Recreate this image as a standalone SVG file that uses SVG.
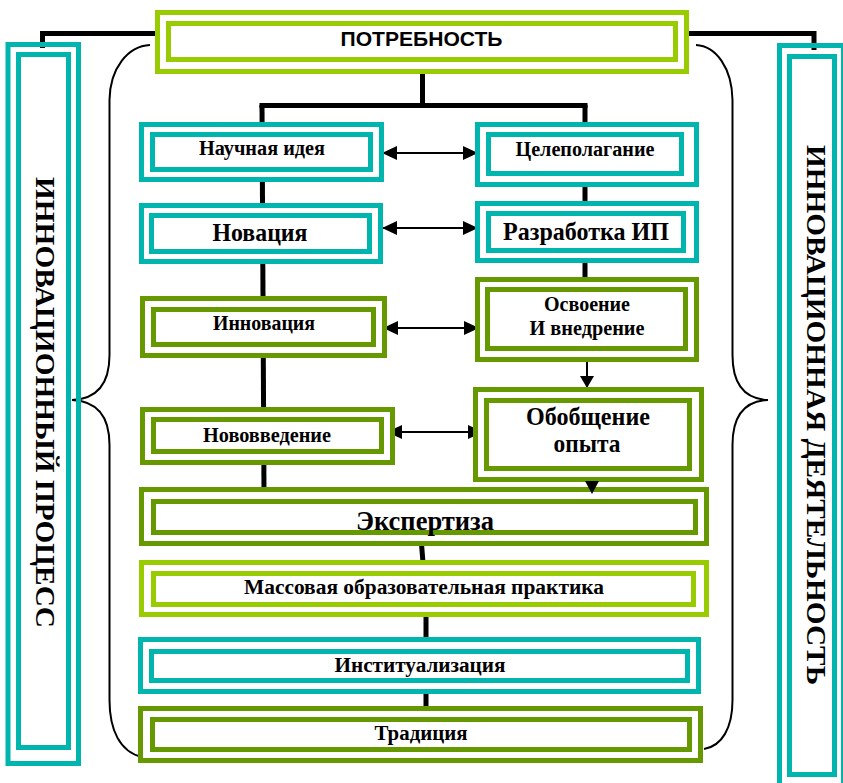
<svg xmlns="http://www.w3.org/2000/svg" width="843" height="783" viewBox="0 0 843 783">
<defs>
<style>
.o{fill:#fff;stroke-width:5}
.i{fill:#fff;stroke-width:5}
.nf{fill:none}
.lime{stroke:#99CC00}
.teal{stroke:#00B5AD}
.olive{stroke:#669900}
.t{font-family:"Liberation Serif","Times New Roman",serif;font-weight:bold;fill:#000;text-anchor:middle}
.s{font-size:20px}
.m{font-size:25px}
.side{font-family:"Liberation Serif","Times New Roman",serif;font-weight:bold;font-size:28px;fill:#000}
.ln{fill:none;stroke:#000;stroke-width:5}
.ar{fill:none;stroke:#000;stroke-width:2}
.br{fill:none;stroke:#000;stroke-width:2}
</style>
<marker id="ah" markerUnits="userSpaceOnUse" markerWidth="15" markerHeight="14" refX="15" refY="7" orient="auto-start-reverse" viewBox="0 0 15 14">
<path d="M0,0 L15,7 L0,14 z" fill="#000"/>
</marker>
<marker id="ah2" markerUnits="userSpaceOnUse" markerWidth="12" markerHeight="14" refX="12" refY="7" orient="auto" viewBox="0 0 12 14">
<path d="M0,0 L12,7 L0,14 z" fill="#000"/>
</marker>
</defs>
<rect x="0" y="0" width="843" height="783" fill="#fff"/>

<g id="connectors">
<path class="ln" d="M162 33.5 H42.5 V48"/>
<path class="ln" d="M682 33.5 H814 V50"/>
<path class="ln" d="M422.5 72 V105.5"/>
<path class="ln" d="M259.5 105.5 H587.5"/>
<path class="ln" d="M262 105 L264 492"/>
<path class="ln" d="M585 105 V282"/>
<path class="ln" d="M421.5 544 L426 600 V712"/>
<path class="ar" d="M382 153 H478" marker-start="url(#ah)" marker-end="url(#ah)"/>
<path class="ar" d="M382 228 H478" marker-start="url(#ah)" marker-end="url(#ah)"/>
<path class="ar" d="M383 328 H479" marker-start="url(#ah)" marker-end="url(#ah)"/>
<path class="ar" d="M387 432 H483" marker-start="url(#ah)" marker-end="url(#ah)"/>
<path class="ar" d="M587 362 V388" marker-end="url(#ah2)"/>
<path class="br" d="M150 45 C128 46 110 68 109.5 100 V355 C109.5 385 96 399 72 400 C96 401 109.5 415 109.5 445 V700 C109.5 730 120 752 142 757"/>
<path class="br" d="M696 45 C716 46 732 68 732.5 100 V355 C732.5 385 745 399 768 400 C745 401 732.5 415 732.5 445 V700 C732.5 728 722 746 704 749"/>
</g>

<g id="left-side">
<rect class="o nf teal" x="8" y="44.5" width="70.5" height="719" style="fill:none"/>
<rect class="i nf teal" x="18.5" y="54.5" width="50" height="693" style="fill:none"/>
<text class="side" transform="translate(36,177) rotate(90)" textLength="451" lengthAdjust="spacingAndGlyphs">ИННОВАЦИОННЫЙ ПРОЦЕСС</text>
</g>

<g id="right-side">
<rect class="o nf teal" x="779.5" y="45.5" width="64" height="745" style="fill:none"/>
<rect class="i nf teal" x="789.5" y="56.5" width="45" height="718" style="fill:none"/>
<text class="side" transform="translate(807,145) rotate(90)" textLength="540" lengthAdjust="spacingAndGlyphs">ИННОВАЦИОННАЯ ДЕЯТЕЛЬНОСТЬ</text>
</g>

<g id="potrebnost">
<rect class="o lime" x="157.5" y="12.5" width="529" height="59"/>
<rect class="i lime" x="168.5" y="23.5" width="507" height="36"/>
<text x="421.5" y="46" style="font-family:'Liberation Sans',Arial,sans-serif;font-weight:bold;font-size:20px;text-anchor:middle" textLength="162" lengthAdjust="spacingAndGlyphs">ПОТРЕБНОСТЬ</text>
</g>

<g id="nauchnaya-ideya">
<rect class="o teal" x="141.5" y="124.5" width="240" height="55"/>
<rect class="i teal" x="152.5" y="134.5" width="218" height="35"/>
<text class="t s" x="262" y="155" textLength="126" lengthAdjust="spacingAndGlyphs">Научная идея</text>
</g>

<g id="celepolaganie">
<rect class="o teal" x="477.5" y="124.5" width="219" height="60"/>
<rect class="i teal" x="488.5" y="134.5" width="193" height="39"/>
<text class="t s" x="585" y="156" textLength="139" lengthAdjust="spacingAndGlyphs">Целеполагание</text>
</g>

<g id="novaciya">
<rect class="o teal" x="141.5" y="205.5" width="239" height="56"/>
<rect class="i teal" x="151.5" y="215.5" width="218" height="36"/>
<text class="t m" x="260" y="241" textLength="95" lengthAdjust="spacingAndGlyphs">Новация</text>
</g>

<g id="razrabotka-ip">
<rect class="o teal" x="477.5" y="203.5" width="219" height="57"/>
<rect class="i teal" x="488.5" y="213.5" width="195" height="37"/>
<text class="t m" x="586" y="240" textLength="166" lengthAdjust="spacingAndGlyphs">Разработка ИП</text>
</g>

<g id="innovaciya">
<rect class="o olive" x="142.5" y="298.5" width="242" height="57"/>
<rect class="i olive" x="153.5" y="309.5" width="220" height="35"/>
<text class="t s" x="264" y="330" textLength="102" lengthAdjust="spacingAndGlyphs">Инновация</text>
</g>

<g id="osvoenie">
<rect class="o olive" x="477.5" y="279.5" width="219" height="80"/>
<rect class="i olive" x="487.5" y="289.5" width="198" height="59"/>
<text class="t s" x="587" y="311" textLength="86" lengthAdjust="spacingAndGlyphs">Освоение</text>
<text class="t s" x="587" y="335" textLength="115" lengthAdjust="spacingAndGlyphs">И внедрение</text>
</g>

<g id="novovvedenie">
<rect class="o olive" x="142.5" y="409.5" width="250" height="53"/>
<rect class="i olive" x="153.5" y="419.5" width="228" height="32"/>
<text class="t s" x="267" y="442" textLength="128" lengthAdjust="spacingAndGlyphs">Нововведение</text>
</g>

<g id="obobshchenie">
<rect class="o olive" x="475.5" y="389.5" width="226" height="90"/>
<rect class="i olive" x="486.5" y="400.5" width="203" height="68"/>
<text class="t m" x="588" y="425" textLength="124" lengthAdjust="spacingAndGlyphs">Обобщение</text>
<text class="t m" x="587" y="452" textLength="67" lengthAdjust="spacingAndGlyphs">опыта</text>
</g>

<g id="ekspertiza">
<rect class="o olive" x="141.5" y="489.5" width="565" height="54"/>
<rect class="i olive" x="153.5" y="501.5" width="542" height="31"/>
<text class="t" x="425" y="530" style="font-size:27px" textLength="138" lengthAdjust="spacingAndGlyphs">Экспертиза</text>
</g>

<g id="arrow-to-ekspertiza">
<polygon points="585,481 599,481 592,494" fill="#000"/>
</g>

<g id="massovaya">
<rect class="o lime" x="141.5" y="562.5" width="565" height="52"/>
<rect class="i lime" x="153.5" y="573.5" width="540" height="31"/>
<text class="t s" x="424" y="594" textLength="360" lengthAdjust="spacingAndGlyphs">Массовая образовательная практика</text>
</g>

<g id="institualizaciya">
<rect class="o teal" x="140.5" y="639.5" width="558" height="52"/>
<rect class="i teal" x="151.5" y="651.5" width="536" height="29"/>
<text class="t s" x="420" y="672" textLength="171" lengthAdjust="spacingAndGlyphs">Институализация</text>
</g>

<g id="tradiciya">
<rect class="o olive" x="140.5" y="708.5" width="560" height="52"/>
<rect class="i olive" x="152.5" y="719.5" width="537" height="30"/>
<text class="t s" x="421" y="740" textLength="93" lengthAdjust="spacingAndGlyphs">Традиция</text>
</g>
</svg>
